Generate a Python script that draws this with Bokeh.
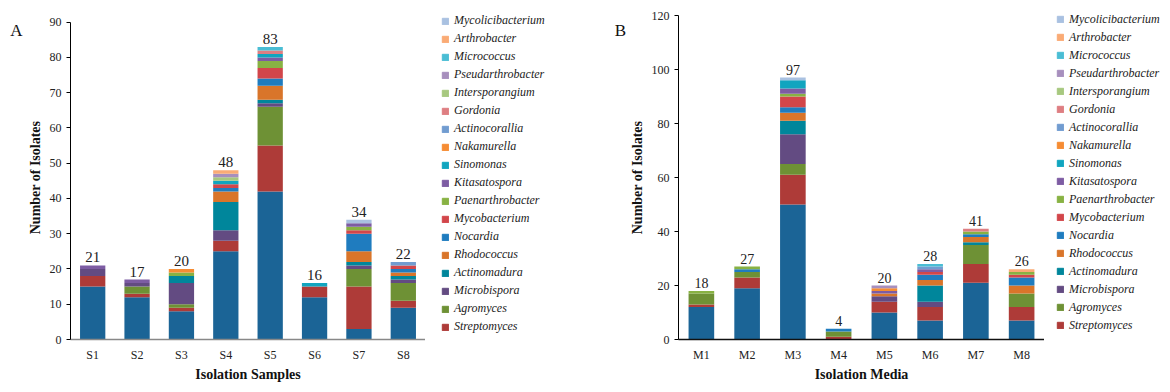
from bokeh.plotting import figure
from bokeh.models import ColumnDataSource, Legend, LegendItem, FixedTicker, Range1d, FactorRange
from bokeh.layouts import row
from bokeh.embed import file_html
from bokeh.resources import INLINE
from bokeh.core.properties import value
import numpy as np

# ---------------- data ----------------
samples = ["S1", "S2", "S3", "S4", "S5", "S6", "S7", "S8"]
media = ["M1", "M2", "M3", "M4", "M5", "M6", "M7", "M8"]

genera = ["Micromonospora", "Streptomyces", "Agromyces", "Microbispora", "Actinomadura",
          "Rhodococcus", "Nocardia", "Mycobacterium", "Paenarthrobacter", "Kitasatospora",
          "Sinomonas", "Nakamurella", "Actinocorallia", "Gordonia", "Intersporangium",
          "Pseudarthrobacter", "Micrococcus", "Arthrobacter", "Mycolicibacterium"]

colors = ["#1B6496", "#AE3B38", "#6E9135", "#634B82", "#00869B",
          "#D9752A", "#1F7CBF", "#D2464A", "#88B243", "#7D5CA3",
          "#11A5BF", "#F68C33", "#719CD0", "#DE7E82", "#A7C87F",
          "#A78FBD", "#4ABDD4", "#FAAB75", "#A9C1E1"]

# Panel A: isolation samples S1..S8
a_micromonospora = [15, 12, 8, 25, 42, 12, 3, 9]
a_streptomyces = [3, 1, 1, 3, 13, 3, 12, 2]
a_agromyces = [0, 2, 1, 0, 11, 0, 5, 5]
a_microbispora = [2, 1, 6, 3, 1, 0, 1, 1]
a_actinomadura = [0, 0, 2, 8, 1, 0, 1, 1]
a_rhodococcus = [0, 0, 0, 3, 4, 0, 3, 1]
a_nocardia = [0, 0, 0, 1, 2, 0, 5, 1]
a_mycobacterium = [0, 0, 0, 1, 3, 0, 1, 1]
a_paenarthrobacter = [0, 0, 1, 0, 2, 0, 1, 0]
a_kitasatospora = [1, 1, 0, 0, 1, 0, 1, 0]
a_sinomonas = [0, 0, 0, 1, 1, 1, 0, 0]
a_nakamurella = [0, 0, 1, 0, 0, 0, 0, 0]
a_actinocorallia = [0, 0, 0, 0, 0, 0, 0, 1]
a_gordonia = [0, 0, 0, 0, 1, 0, 0, 0]
a_intersporangium = [0, 0, 0, 1, 0, 0, 0, 0]
a_pseudarthrobacter = [0, 0, 0, 1, 0, 0, 0, 0]
a_micrococcus = [0, 0, 0, 0, 1, 0, 0, 0]
a_arthrobacter = [0, 0, 0, 1, 0, 0, 0, 0]
a_mycolicibacterium = [0, 0, 0, 0, 0, 0, 1, 0]

# Panel B: isolation media M1..M8
b_micromonospora = [12, 19, 50, 0, 10, 7, 21, 7]
b_streptomyces = [1, 4, 11, 1, 4, 5, 7, 5]
b_agromyces = [4, 2, 4, 2, 0, 0, 7, 5]
b_microbispora = [0, 0, 11, 0, 2, 2, 0, 0]
b_actinomadura = [0, 0, 5, 0, 0, 6, 1, 0]
b_rhodococcus = [0, 0, 3, 0, 1, 2, 2, 3]
b_nocardia = [0, 1, 2, 1, 0, 2, 1, 3]
b_mycobacterium = [0, 0, 4, 0, 0, 1, 0, 1]
b_paenarthrobacter = [1, 1, 1, 0, 0, 0, 1, 1]
b_kitasatospora = [0, 0, 2, 0, 1, 1, 0, 0]
b_sinomonas = [0, 0, 3, 0, 0, 0, 0, 0]
b_nakamurella = [0, 0, 0, 0, 1, 0, 0, 0]
b_actinocorallia = [0, 0, 0, 0, 0, 1, 0, 0]
b_gordonia = [0, 0, 0, 0, 0, 0, 1, 0]
b_intersporangium = [0, 0, 0, 0, 0, 0, 0, 0]
b_pseudarthrobacter = [0, 0, 0, 0, 1, 0, 0, 0]
b_micrococcus = [0, 0, 0, 0, 0, 1, 0, 0]
b_arthrobacter = [0, 0, 0, 0, 0, 0, 0, 1]
b_mycolicibacterium = [0, 0, 1, 0, 0, 0, 0, 0]

a_series = [a_micromonospora, a_streptomyces, a_agromyces, a_microbispora, a_actinomadura,
            a_rhodococcus, a_nocardia, a_mycobacterium, a_paenarthrobacter, a_kitasatospora,
            a_sinomonas, a_nakamurella, a_actinocorallia, a_gordonia, a_intersporangium,
            a_pseudarthrobacter, a_micrococcus, a_arthrobacter, a_mycolicibacterium]
b_series = [b_micromonospora, b_streptomyces, b_agromyces, b_microbispora, b_actinomadura,
            b_rhodococcus, b_nocardia, b_mycobacterium, b_paenarthrobacter, b_kitasatospora,
            b_sinomonas, b_nakamurella, b_actinocorallia, b_gordonia, b_intersporangium,
            b_pseudarthrobacter, b_micrococcus, b_arthrobacter, b_mycolicibacterium]

a_yticks = [0, 10, 20, 30, 40, 50, 60, 70, 80, 90]
b_yticks = [0, 20, 40, 60, 80, 100, 120]

panel_letters = ["A", "B"]

FONT = "Liberation Serif"
H = 384
TOP = 15
BOTTOM = 40
LEG_BOX = 388  # height Bokeh reserves for the 19-item legend box


def blank_fig(W):
    f = figure(width=W, height=H, x_range=Range1d(0, W), y_range=Range1d(H, 0),
               x_axis_type=None, y_axis_type=None,
               min_border_left=0, min_border_right=0, min_border_top=0, min_border_bottom=0,
               output_backend="svg", toolbar_location=None)
    f.grid.visible = False
    f.outline_line_color = None
    return f


def letter_fig(letter, W, lx, ly):
    f = blank_fig(W)
    f.text(x=[lx], y=[ly], text=[letter], text_align="center", text_baseline="middle",
           text_font=value(FONT), text_font_size="17px", text_color="#111111")
    return f


def legend_fig(W, gx, first_y, font, pad):
    f = blank_fig(W)
    rs = [f.vbar(x=[np.nan], top=[np.nan], width=1, color=c) for c in colors]
    items = [LegendItem(label=g, renderers=[r]) for g, r in zip(genera, rs)][::-1]
    top_edge = first_y - 7.5 - pad
    leg = Legend(items=items, location=(gx - pad, H - top_edge - LEG_BOX),
                 glyph_width=8, glyph_height=8, label_height=14, spacing=3,
                 padding=pad, margin=0, label_standoff=5,
                 label_text_font=FONT, label_text_font_style="italic",
                 label_text_font_size=font, label_text_color="#222222",
                 border_line_alpha=0, background_fill_alpha=0)
    f.add_layout(leg, "center")
    return f


def make_panel(cats, series, yticks, ytop, xlabel, W, left, xaxis_color, bar_w, total_font):
    data = {"x": cats}
    for g, s in zip(genera, series):
        data[g] = s
    src = ColumnDataSource(data)
    p = figure(x_range=FactorRange(*cats), y_range=Range1d(0, ytop),
               width=W, height=H,
               min_border_left=left, min_border_top=TOP, min_border_bottom=BOTTOM,
               min_border_right=0, output_backend="svg", toolbar_location=None)
    p.vbar_stack(genera, x="x", width=bar_w, color=colors, source=src, line_width=0)
    totals = np.sum(np.array(series), axis=0)
    tsrc = ColumnDataSource(dict(x=cats, y=totals, t=[str(int(v)) for v in totals]))
    p.text(x="x", y="y", text="t", source=tsrc, text_align="center", text_baseline="bottom",
           y_offset=-3, text_font=value(FONT), text_font_size=total_font, text_color="#222222")

    p.xgrid.visible = False
    p.ygrid.visible = False
    p.outline_line_color = None

    p.yaxis.ticker = FixedTicker(ticks=yticks)
    p.yaxis.bounds = (yticks[0], yticks[-1])
    p.yaxis.axis_line_color = "black"
    p.yaxis.major_tick_line_color = "black"
    p.yaxis.major_tick_out = 4
    p.yaxis.major_tick_in = 0
    p.yaxis.minor_tick_line_color = None
    p.yaxis.minor_tick_out = 0
    p.yaxis.major_label_standoff = 5
    p.yaxis.major_label_text_font = FONT
    p.yaxis.major_label_text_font_size = "12px"
    p.yaxis.major_label_text_color = "#222222"
    p.yaxis.axis_label = "Number of Isolates"
    p.yaxis.axis_label_text_font = FONT
    p.yaxis.axis_label_text_font_style = "bold"
    p.yaxis.axis_label_text_font_size = "14px"
    p.yaxis.axis_label_standoff = 4
    p.yaxis.axis_label_text_color = "#111111"

    p.xaxis.axis_line_color = xaxis_color
    p.xaxis.axis_line_width = 1.5
    p.xaxis.major_tick_line_color = None
    p.xaxis.major_tick_out = 0
    p.xaxis.minor_tick_line_color = None
    p.xaxis.minor_tick_out = 0
    p.xaxis.major_label_standoff = 8
    p.xaxis.major_label_text_font = FONT
    p.xaxis.major_label_text_font_size = "12px"
    p.xaxis.major_label_text_color = "#222222"
    p.xaxis.axis_label = xlabel
    p.xaxis.axis_label_text_font = FONT
    p.xaxis.axis_label_text_font_style = "bold"
    p.xaxis.axis_label_text_font_size = "14px"
    p.xaxis.axis_label_standoff = 2
    p.xaxis.axis_label_text_color = "#111111"
    return p


fA = letter_fig(panel_letters[0], 24, 16, 18)
pA = make_panel(samples, a_series, a_yticks, 91.9, "Isolation Samples",
                W=401, left=46, xaxis_color="#888888", bar_w=0.57, total_font="15px")
lA = legend_fig(179, gx=16, first_y=20.5, font="12px", pad=2)
fB = letter_fig(panel_letters[1], 22, 16, 18)
pB = make_panel(media, b_series, b_yticks, 120, "Isolation Media",
                W=418, left=50, xaxis_color="#111111", bar_w=0.56, total_font="14px")
lB = legend_fig(118, gx=12, first_y=15, font="12px", pad=0)

layout = row(fA, pA, lA, fB, pB, lB)
open("out.html", "w").write(file_html(layout, INLINE))
